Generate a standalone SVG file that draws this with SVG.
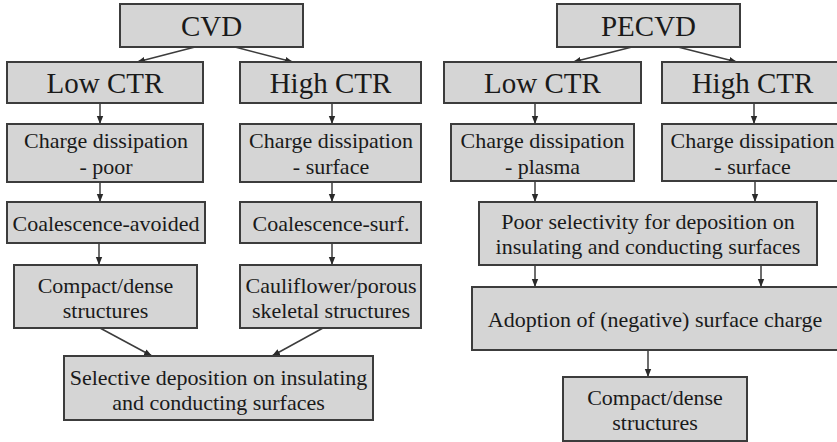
<svg xmlns="http://www.w3.org/2000/svg" width="837" height="442" viewBox="0 0 837 442">
<defs>
<style>
.box{fill:#d5d5d5;stroke:#3c3c3c;stroke-width:2}
text{font-family:'Times New Roman','Liberation Serif',Tinos,'DejaVu Serif',serif;fill:#1a1a1a;text-anchor:middle}
.big{font-size:29px}
.sm{font-size:22px}
.c{stroke:#3c3c3c;stroke-width:1.5;fill:none;marker-end:url(#ah)}
</style>
<marker id="ah" markerUnits="userSpaceOnUse" markerWidth="8" markerHeight="8" viewBox="0 0 8 8" refX="8" refY="4" orient="auto">
<path d="M0,0.8 L8,4 L0,7.2 Z" fill="#2a2a2a"/>
</marker>
</defs>
<rect width="837" height="442" fill="#ffffff"/>
<g id="connectors">
<line class="c" x1="195" y1="47" x2="137" y2="62"/>
<line class="c" x1="235" y1="47" x2="293" y2="62"/>
<line class="c" x1="100" y1="103" x2="100" y2="124"/>
<line class="c" x1="332" y1="103" x2="332" y2="124"/>
<line class="c" x1="100" y1="182" x2="100" y2="202"/>
<line class="c" x1="332" y1="182" x2="332" y2="202"/>
<line class="c" x1="99" y1="243" x2="99" y2="265"/>
<line class="c" x1="332" y1="243" x2="332" y2="265"/>
<line class="c" x1="100" y1="328" x2="152" y2="356"/>
<line class="c" x1="323" y1="328" x2="272" y2="356"/>
<line class="c" x1="632" y1="47" x2="573" y2="62"/>
<line class="c" x1="678" y1="47" x2="737" y2="62"/>
<line class="c" x1="535" y1="103" x2="535" y2="124"/>
<line class="c" x1="754" y1="103" x2="754" y2="124"/>
<line class="c" x1="535" y1="181" x2="535" y2="202"/>
<line class="c" x1="755" y1="181" x2="755" y2="202"/>
<line class="c" x1="535" y1="265" x2="535" y2="287"/>
<line class="c" x1="761" y1="265" x2="761" y2="287"/>
<line class="c" x1="648" y1="350" x2="648" y2="377"/>
</g>
<g id="cvd"><rect class="box" x="120" y="4" width="183" height="43"/><text class="big" x="211.5" y="36">CVD</text></g>
<g id="cvd-low"><rect class="box" x="7" y="62" width="196" height="41"/><text class="big" x="105" y="93">Low CTR</text></g>
<g id="cvd-high"><rect class="box" x="240" y="62" width="181" height="41"/><text class="big" x="330.5" y="93">High CTR</text></g>
<g id="cvd-charge-poor"><rect class="box" x="7" y="124" width="196" height="58"/><text class="sm" x="106" y="148">Charge dissipation</text><text class="sm" x="106" y="174">- poor</text></g>
<g id="cvd-charge-surface"><rect class="box" x="240" y="124" width="181" height="58"/><text class="sm" x="331" y="148">Charge dissipation</text><text class="sm" x="331" y="174">- surface</text></g>
<g id="coal-avoided"><rect class="box" x="7" y="202" width="198" height="41"/><text class="sm" x="106" y="230.5">Coalescence-avoided</text></g>
<g id="coal-surf"><rect class="box" x="240" y="202" width="181" height="41"/><text class="sm" x="331" y="230.5">Coalescence-surf.</text></g>
<g id="cvd-compact"><rect class="box" x="14" y="265" width="183" height="63"/><text class="sm" x="105.5" y="293">Compact/dense</text><text class="sm" x="105.5" y="318">structures</text></g>
<g id="cauliflower"><rect class="box" x="240" y="265" width="181" height="63"/><text class="sm" x="331" y="293">Cauliflower/porous</text><text class="sm" x="331" y="318">skeletal structures</text></g>
<g id="selective"><rect class="box" x="64" y="356" width="309" height="64"/><text class="sm" x="218.5" y="385">Selective deposition on insulating</text><text class="sm" x="218.5" y="410">and conducting surfaces</text></g>
<g id="pecvd"><rect class="box" x="557" y="4" width="183" height="43"/><text class="big" x="648.5" y="36">PECVD</text></g>
<g id="pecvd-low"><rect class="box" x="444" y="62" width="197" height="41"/><text class="big" x="542.5" y="93">Low CTR</text></g>
<g id="pecvd-high"><rect class="box" x="662" y="62" width="181" height="41"/><text class="big" x="752.5" y="93">High CTR</text></g>
<g id="charge-plasma"><rect class="box" x="451" y="124" width="183" height="57"/><text class="sm" x="542.5" y="148">Charge dissipation</text><text class="sm" x="542.5" y="174">- plasma</text></g>
<g id="pecvd-charge-surface"><rect class="box" x="662" y="124" width="181" height="57"/><text class="sm" x="752.5" y="148">Charge dissipation</text><text class="sm" x="752.5" y="174">- surface</text></g>
<g id="poor-selectivity"><rect class="box" x="479" y="202" width="338" height="63"/><text class="sm" x="648" y="229">Poor selectivity for deposition on</text><text class="sm" x="648" y="254">insulating and conducting surfaces</text></g>
<g id="adoption"><rect class="box" x="472" y="287" width="368" height="63"/><text class="sm" x="655" y="326.5">Adoption of (negative) surface charge</text></g>
<g id="pecvd-compact"><rect class="box" x="563" y="377" width="184" height="64"/><text class="sm" x="655" y="405">Compact/dense</text><text class="sm" x="655" y="430">structures</text></g>
</svg>
